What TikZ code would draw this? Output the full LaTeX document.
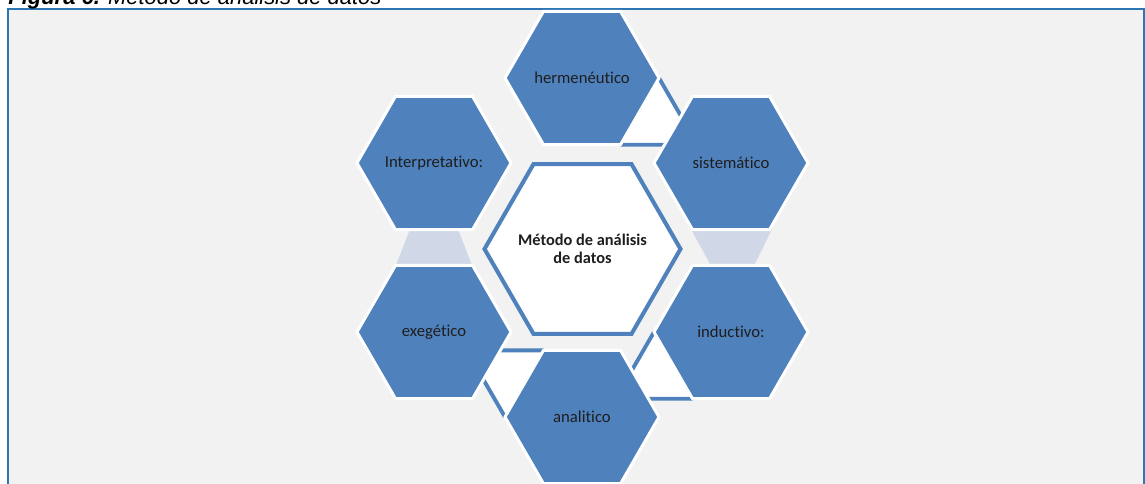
\documentclass[tikz,border=0pt]{standalone}
\usepackage{fontspec}
\setmainfont{Carlito}[Ligatures=NoCommon]
\newfontfamily\capfont{Liberation Sans}
\usetikzlibrary{calc}
\definecolor{hexblue}{RGB}{79,129,189}
\definecolor{framebl}{RGB}{46,117,182}
\definecolor{bgray}{RGB}{242,242,242}
\definecolor{lgray}{RGB}{208,216,232}
\definecolor{txt}{RGB}{30,30,30}
\tikzset{
  outerhex/.style={fill=hexblue, draw=white, line width=1.7pt},
  centerhex/.style={fill=white, draw=hexblue, line width=2.3pt},
  confill/.style={fill=white},
  conline/.style={draw=hexblue, line width=2.2pt},
  congray/.style={fill=lgray},
  lbl/.style={font=\fontsize{9.5}{11}\selectfont, text=txt, inner sep=0pt},
  frame/.style={fill=bgray, draw=framebl, line width=1.1pt},
}
\newcommand\hexo[2]{($(#1)+(0:#2)$) -- ++(120:#2) -- ++(180:#2) -- ++(240:#2) -- ++(300:#2) -- ++(0:#2) -- cycle}
\begin{document}
\begin{tikzpicture}[x=0.02cm, y=-0.02cm]
\useasboundingbox (0,0) rectangle (1145,483);
\clip (0,0) rectangle (1145,483);
% frame
\path[frame] (8,9) rectangle (1144,500);
\node[anchor=base west, inner sep=0pt, font=\capfont\fontsize{12.5}{15}\selectfont] (cap) at (8,5)
  {\textbf{\textit{Figura 6.}} \textit{Método de análisis de datos}};
% centres
\coordinate (cen) at (582.5,249);
\coordinate (herm) at (582,78);
\coordinate (sist) at (731,163);
\coordinate (induc) at (731,332);
\coordinate (anal) at (582,417);
\coordinate (exeg) at (434,332);
\coordinate (interp) at (434,163);
% grey connectors
\path[congray] ($(sist)+(-40.7,65)$) -- ($(sist)+(41.7,65)$) -- ($(sist)+(21.8,105)$) -- ($(sist)+(-18.8,105)$) -- cycle;
\path[congray] ($(interp)+(-23.5,65)$) -- ($(interp)+(23.5,65)$) -- ($(interp)+(39.1,105)$) -- ($(interp)+(-39.1,105)$) -- cycle;
% white connectors (triangles between hexagons)
\path ($(herm)+(0:77)$) coordinate (t1a) -- ++(60:77) coordinate (t1c) -- ++(180:77) coordinate (t1b);
\path ($(induc)+(180:77)$) coordinate (t3a) -- ++(60:77) coordinate (t3b) -- ++(180:77) coordinate (t3c);
\path ($(anal)+(240:77)$) coordinate (t4a) -- ++(120:77) coordinate (t4b) -- ++(240:77) coordinate (t4c);
\path[confill] (t1a) -- (t1c) -- (t1b) -- cycle;
\path[confill] (t3a) -- (t3b) -- (t3c) -- cycle;
\path[confill] (t4a) -- (t4b) -- (t4c) -- cycle;
\draw[conline] (t1a) -- (t1c) -- (t1b);
\draw[conline] (t3a) -- (t3c) -- (t3b);
\draw[conline] (t4a) -- (t4c) -- (t4b);
% centre hexagon
\path[centerhex] \hexo{cen}{98};
% outer hexagons
\path[outerhex] \hexo{herm}{77};
\path[outerhex] \hexo{sist}{77};
\path[outerhex] \hexo{induc}{77};
\path[outerhex] \hexo{anal}{77};
\path[outerhex] \hexo{exeg}{77};
\path[outerhex] \hexo{interp}{77};
% labels
\node[lbl, font=\bfseries\fontsize{9.3}{10.3}\selectfont, align=center] (tcen) at (cen) {Método de análisis\\de datos};
\node[lbl] (therm) at (herm) {hermenéutico};
\node[lbl] (tsist) at (sist) {sistemático};
\node[lbl] (tinduc) at (induc) {inductivo:};
\node[lbl] (tanal) at (anal) {analitico};
\node[lbl] (texeg) at (exeg) {exegético};
\node[lbl] (tinterp) at (interp) {Interpretativo:};
\end{tikzpicture}
\end{document}
